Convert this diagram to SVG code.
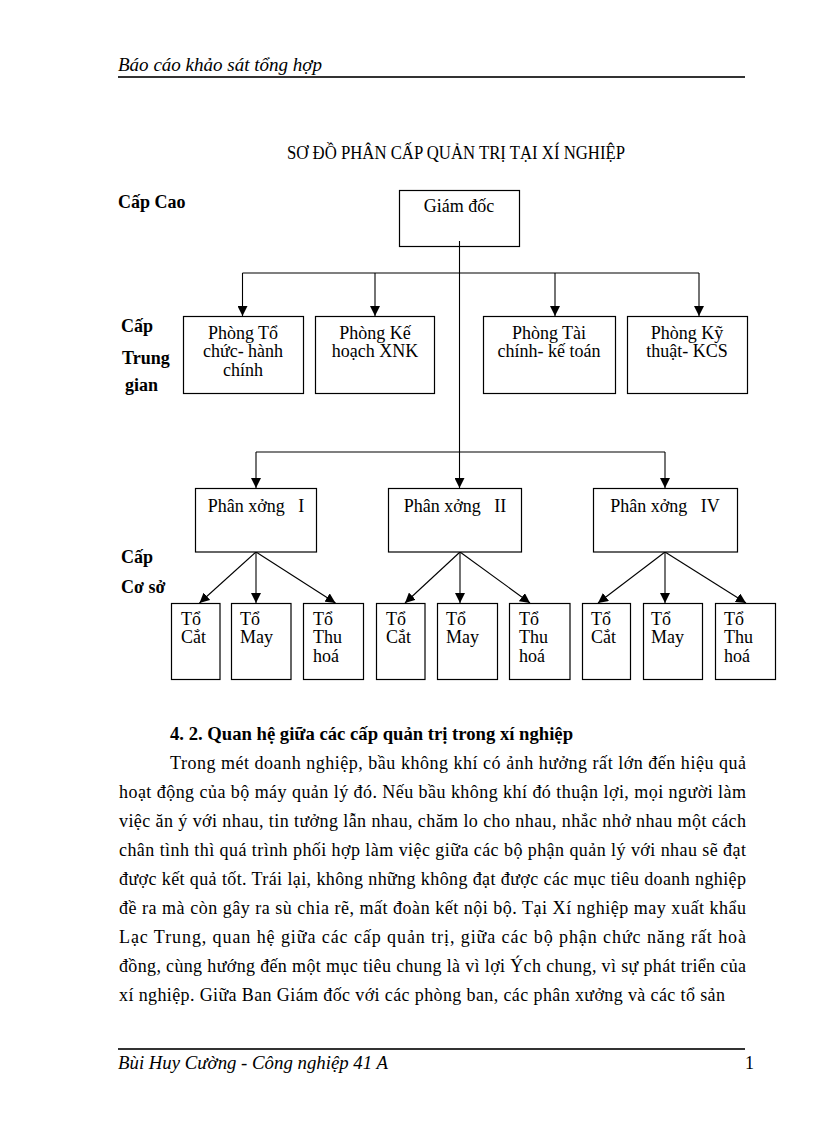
<svg xmlns="http://www.w3.org/2000/svg" width="816" height="1123" viewBox="0 0 816 1123">
<style>
.t{font-family:"Liberation Serif","Times New Roman",serif;font-size:18px;fill:#000}
.c{text-anchor:middle}
.b{font-weight:bold}
.i{font-style:italic}
.box{fill:#fff;stroke:#000;stroke-width:1.2}
.ln{fill:none;stroke:#000;stroke-width:1.1}
.pre{white-space:pre}
</style>
<defs>
<marker id="ah" viewBox="0 0 10 10" refX="10" refY="5" markerWidth="10" markerHeight="10" markerUnits="userSpaceOnUse" orient="auto">
<path d="M0,0 L10,5 L0,10 z" fill="#000"/>
</marker>
</defs>
<rect width="816" height="1123" fill="#fff"/>

<g id="header">
<text class="t i" x="118" y="71" font-size="17" textLength="204" lengthAdjust="spacingAndGlyphs">Báo cáo khảo sát tổng hợp</text>
<line x1="118" y1="77" x2="745" y2="77" stroke="#333" stroke-width="2"/>
</g>
<text id="title" class="t" x="287" y="159" font-size="14" textLength="338" lengthAdjust="spacingAndGlyphs">SƠ ĐỒ PHÂN CẤP QUẢN TRỊ TẠI XÍ NGHIỆP</text>

<g id="levels">
<text class="t b" x="118" y="208">Cấp Cao</text>
<text class="t b" x="121" y="332">Cấp</text>
<text class="t b" x="122" y="364">Trung</text>
<text class="t b" x="125" y="391">gian</text>
<text class="t b" x="121" y="563">Cấp</text>
<text class="t b" x="121" y="593">Cơ sở</text>
</g>

<g id="connectors">
<path class="ln" d="M459.5,241 V488" marker-end="url(#ah)"/>
<path class="ln" d="M242.5,273 H699"/>
<path class="ln" d="M242.5,273 V316" marker-end="url(#ah)"/>
<path class="ln" d="M375,273 V316" marker-end="url(#ah)"/>
<path class="ln" d="M555,273 V316" marker-end="url(#ah)"/>
<path class="ln" d="M699,273 V316" marker-end="url(#ah)"/>
<path class="ln" d="M256,452 H665"/>
<path class="ln" d="M256,452 V488" marker-end="url(#ah)"/>
<path class="ln" d="M665,452 V488" marker-end="url(#ah)"/>
<path class="ln" d="M256,552 L199.5,603" marker-end="url(#ah)"/>
<path class="ln" d="M256,552 V603" marker-end="url(#ah)"/>
<path class="ln" d="M256,552 L335.5,603" marker-end="url(#ah)"/>
<path class="ln" d="M460,552 L405,603" marker-end="url(#ah)"/>
<path class="ln" d="M460,552 V603" marker-end="url(#ah)"/>
<path class="ln" d="M460,552 L530,603" marker-end="url(#ah)"/>
<path class="ln" d="M665,552 L598,603" marker-end="url(#ah)"/>
<path class="ln" d="M665,552 V603" marker-end="url(#ah)"/>
<path class="ln" d="M665,552 L746,603" marker-end="url(#ah)"/>
</g>

<g id="giam-doc">
<rect class="box" x="399.5" y="190.5" width="120" height="56" fill-opacity="0"/>
<text class="t c" x="459" y="212">Giám đốc</text>
</g>

<g id="phong-to-chuc">
<rect class="box" x="183.5" y="316.5" width="120" height="77"/>
<text class="t c" x="243" y="339">Phòng Tổ</text>
<text class="t c" x="243" y="357">chức- hành</text>
<text class="t c" x="243" y="376">chính</text>
</g>
<g id="phong-ke-hoach">
<rect class="box" x="315.5" y="316.5" width="119" height="77"/>
<text class="t c" x="375" y="339">Phòng Kế</text>
<text class="t c" x="375" y="357">hoạch XNK</text>
</g>
<g id="phong-tai-chinh">
<rect class="box" x="483.5" y="316.5" width="132" height="77"/>
<text class="t c" x="549" y="339">Phòng Tài</text>
<text class="t c" x="549" y="357">chính- kế toán</text>
</g>
<g id="phong-ky-thuat">
<rect class="box" x="627.5" y="316.5" width="120" height="77"/>
<text class="t c" x="687" y="339">Phòng Kỹ</text>
<text class="t c" x="687" y="357">thuật- KCS</text>
</g>

<g id="px1">
<rect class="box" x="195.5" y="488.5" width="121" height="63.5"/>
<text class="t c pre" x="256" y="512" xml:space="preserve">Phân xởng   I</text>
</g>
<g id="px2">
<rect class="box" x="388.5" y="488.5" width="133" height="63.5"/>
<text class="t c pre" x="455" y="512" xml:space="preserve">Phân xởng   II</text>
</g>
<g id="px4">
<rect class="box" x="593.5" y="488.5" width="144" height="63.5"/>
<text class="t c pre" x="665" y="512" xml:space="preserve">Phân xởng   IV</text>
</g>

<g id="g1-cat">
<rect class="box" x="171.5" y="603.5" width="48.5" height="76"/>
<text class="t" x="181" y="625">Tổ</text><text class="t" x="181" y="643">Cắt</text>
</g>
<g id="g1-may">
<rect class="box" x="231.5" y="603.5" width="59.5" height="76"/>
<text class="t" x="240" y="625">Tổ</text><text class="t" x="240" y="643">May</text>
</g>
<g id="g1-thu">
<rect class="box" x="303.5" y="603.5" width="60" height="76"/>
<text class="t" x="313" y="625">Tổ</text><text class="t" x="313" y="643">Thu</text><text class="t" x="313" y="662">hoá</text>
</g>
<g id="g2-cat">
<rect class="box" x="376.5" y="603.5" width="48.5" height="76"/>
<text class="t" x="386" y="625">Tổ</text><text class="t" x="386" y="643">Cắt</text>
</g>
<g id="g2-may">
<rect class="box" x="437.5" y="603.5" width="60" height="76"/>
<text class="t" x="446" y="625">Tổ</text><text class="t" x="446" y="643">May</text>
</g>
<g id="g2-thu">
<rect class="box" x="509.5" y="603.5" width="60.5" height="76"/>
<text class="t" x="519" y="625">Tổ</text><text class="t" x="519" y="643">Thu</text><text class="t" x="519" y="662">hoá</text>
</g>
<g id="g3-cat">
<rect class="box" x="582.5" y="603.5" width="48" height="76"/>
<text class="t" x="591" y="625">Tổ</text><text class="t" x="591" y="643">Cắt</text>
</g>
<g id="g3-may">
<rect class="box" x="643.5" y="603.5" width="59" height="76"/>
<text class="t" x="651" y="625">Tổ</text><text class="t" x="651" y="643">May</text>
</g>
<g id="g3-thu">
<rect class="box" x="715.5" y="603.5" width="60" height="76"/>
<text class="t" x="724" y="625">Tổ</text><text class="t" x="724" y="643">Thu</text><text class="t" x="724" y="662">hoá</text>
</g>

<g id="body">
<text class="t b" x="170" y="740" textLength="403" lengthAdjust="spacingAndGlyphs">4. 2. Quan hệ giữa các cấp quản trị trong xí nghiệp</text>
<text class="t" x="170" y="769" textLength="576" lengthAdjust="spacing">Trong mét doanh nghiệp, bầu không khí có ảnh hưởng rất lớn đến hiệu quả</text>
<text class="t" x="119" y="798" textLength="627" lengthAdjust="spacing">hoạt động của bộ máy quản lý đó. Nếu bầu không khí đó thuận lợi, mọi người làm</text>
<text class="t" x="119" y="827" textLength="627" lengthAdjust="spacing">việc ăn ý với nhau, tin tưởng lẫn nhau, chăm lo cho nhau, nhắc nhở nhau một cách</text>
<text class="t" x="119" y="856" textLength="627" lengthAdjust="spacing">chân tình thì quá trình phối hợp làm việc giữa các bộ phận quản lý với nhau sẽ đạt</text>
<text class="t" x="119" y="885" textLength="627" lengthAdjust="spacing">được kết quả tốt. Trái lại, không những không đạt được các mục tiêu doanh nghiệp</text>
<text class="t" x="119" y="914" textLength="627" lengthAdjust="spacing">đề ra mà còn gây ra sù chia rẽ, mất đoàn kết nội bộ. Tại Xí nghiệp may xuất khẩu</text>
<text class="t" x="119" y="943" textLength="627" lengthAdjust="spacing">Lạc Trung, quan hệ giữa các cấp quản trị, giữa các bộ phận chức năng rất hoà</text>
<text class="t" x="119" y="972" textLength="627" lengthAdjust="spacing">đồng, cùng hướng đến một mục tiêu chung là vì lợi Ých chung, vì sự phát triển của</text>
<text class="t" x="119" y="1001" textLength="606" lengthAdjust="spacing">xí nghiệp. Giữa Ban Giám đốc với các phòng ban, các phân xưởng và các tổ sản</text>
</g>

<g id="footer">
<line x1="118" y1="1049" x2="745" y2="1049" stroke="#333" stroke-width="2"/>
<text class="t i" x="118" y="1069" font-size="17" textLength="270" lengthAdjust="spacingAndGlyphs">Bùi Huy Cường - Công nghiệp 41 A</text>
<text class="t" x="745" y="1069" font-size="17">1</text>
</g>
</svg>
